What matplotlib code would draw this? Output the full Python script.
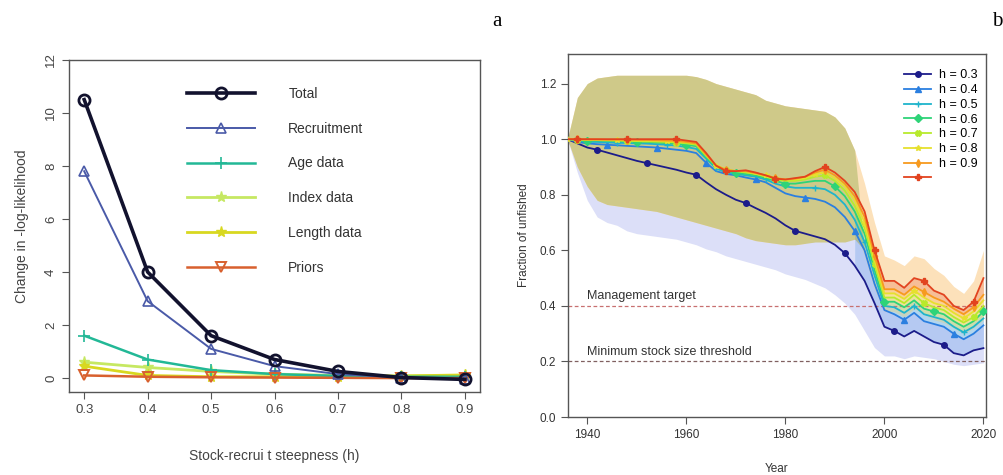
import numpy as np
import matplotlib
matplotlib.use("Agg")
import matplotlib.pyplot as plt

plt.rcParams['font.family'] = ['Liberation Sans', 'DejaVu Sans']

# ---- panel a: likelihood profile ----
steepness = [0.3, 0.4, 0.5, 0.6, 0.7, 0.8, 0.9]
total = [10.5, 4.0, 1.6, 0.7, 0.25, 0.02, -0.05]
recruitment = [7.8, 2.9, 1.1, 0.45, 0.15, 0.02, -0.05]
age_data = [1.6, 0.7, 0.3, 0.15, 0.08, 0.05, 0.05]
index_data = [0.6, 0.4, 0.25, 0.15, 0.1, 0.08, 0.1]
length_data = [0.45, 0.1, 0.05, 0.05, 0.05, 0.08, 0.12]
priors = [0.1, 0.05, 0.03, 0.02, 0.01, 0.0, 0.0]

# ---- panel b: fraction of unfished by steepness ----
years = np.arange(1936, 2021, 2)
h_labels = ['h = 0.3', 'h = 0.4', 'h = 0.5', 'h = 0.6', 'h = 0.7', 'h = 0.8', 'h = 0.9', ' ']
h03 = [1.0, 0.985, 0.97, 0.962, 0.952, 0.942, 0.932, 0.922, 0.914, 0.906, 0.898, 0.89, 0.88, 0.872,
       0.845, 0.82, 0.80, 0.782, 0.77, 0.752, 0.735, 0.715, 0.69, 0.67, 0.66, 0.65, 0.64, 0.62, 0.59,
       0.545, 0.49, 0.41, 0.325, 0.31, 0.29, 0.31, 0.29, 0.27, 0.26, 0.23, 0.222, 0.24, 0.248]
h04 = [1.0, 0.99, 0.985, 0.982, 0.98, 0.978, 0.976, 0.974, 0.972, 0.97, 0.966, 0.962, 0.958, 0.95,
       0.915, 0.885, 0.875, 0.87, 0.862, 0.855, 0.845, 0.825, 0.805, 0.795, 0.79, 0.785, 0.775, 0.755, 0.72,
       0.67, 0.6, 0.48, 0.385, 0.37, 0.35, 0.375, 0.345, 0.335, 0.325, 0.3, 0.28, 0.3, 0.33]
h05 = [1.0, 0.995, 0.99, 0.99, 0.988, 0.987, 0.986, 0.985, 0.984, 0.982, 0.98, 0.977, 0.972, 0.965,
       0.93, 0.895, 0.88, 0.875, 0.87, 0.865, 0.855, 0.84, 0.83, 0.825, 0.825, 0.825, 0.82, 0.80, 0.765,
       0.71, 0.63, 0.51, 0.40, 0.395, 0.375, 0.40, 0.37, 0.36, 0.35, 0.325, 0.305, 0.325, 0.355]
h06 = [1.0, 0.997, 0.995, 0.995, 0.994, 0.993, 0.992, 0.991, 0.99, 0.988, 0.986, 0.984, 0.98, 0.975,
       0.935, 0.9, 0.885, 0.88, 0.875, 0.87, 0.86, 0.85, 0.84, 0.84, 0.845, 0.85, 0.85, 0.83, 0.795,
       0.74, 0.66, 0.53, 0.415, 0.415, 0.395, 0.42, 0.39, 0.38, 0.37, 0.345, 0.325, 0.345, 0.38]
h07 = [1.0, 0.998, 0.997, 0.997, 0.996, 0.995, 0.994, 0.993, 0.992, 0.991, 0.99, 0.988, 0.985, 0.98,
       0.94, 0.905, 0.89, 0.885, 0.88, 0.875, 0.865, 0.855, 0.85, 0.85, 0.855, 0.865, 0.87, 0.85, 0.815,
       0.76, 0.68, 0.55, 0.43, 0.43, 0.41, 0.44, 0.41, 0.395, 0.385, 0.36, 0.34, 0.36, 0.40]
h08 = [1.0, 0.999, 0.998, 0.998, 0.997, 0.997, 0.996, 0.995, 0.995, 0.994, 0.993, 0.992, 0.99, 0.985,
       0.945, 0.905, 0.89, 0.885, 0.885, 0.875, 0.87, 0.86, 0.855, 0.855, 0.86, 0.875, 0.88, 0.86, 0.83,
       0.78, 0.70, 0.565, 0.445, 0.445, 0.425, 0.455, 0.43, 0.41, 0.40, 0.375, 0.355, 0.38, 0.42]
h09 = [1.0, 1.0, 0.999, 0.999, 0.998, 0.998, 0.998, 0.997, 0.997, 0.996, 0.995, 0.994, 0.99, 0.985,
       0.945, 0.905, 0.89, 0.885, 0.885, 0.878, 0.87, 0.86, 0.855, 0.858, 0.865, 0.88, 0.89, 0.87, 0.84,
       0.795, 0.72, 0.58, 0.46, 0.46, 0.44, 0.47, 0.45, 0.43, 0.415, 0.39, 0.37, 0.395, 0.44]
h10 = [1.0, 1.0, 1.0, 1.0, 1.0, 1.0, 1.0, 1.0, 1.0, 1.0, 1.0, 1.0, 0.995, 0.99,
       0.95, 0.905, 0.885, 0.885, 0.888, 0.88, 0.87, 0.858, 0.855, 0.86, 0.865, 0.885, 0.90, 0.88, 0.85,
       0.81, 0.74, 0.60, 0.49, 0.49, 0.465, 0.50, 0.49, 0.455, 0.44, 0.40, 0.385, 0.415, 0.50]

# uncertainty envelopes
band_top = [1.0, 1.15, 1.2, 1.22, 1.225, 1.23, 1.23, 1.23, 1.23, 1.23, 1.23, 1.23, 1.23, 1.225,
            1.215, 1.2, 1.19, 1.18, 1.17, 1.16, 1.14, 1.13, 1.12, 1.115, 1.11, 1.105, 1.10, 1.08, 1.04,
            0.96, 0.84, 0.70, 0.58, 0.565, 0.545, 0.58, 0.57, 0.535, 0.51, 0.47, 0.445, 0.49, 0.60]
olive_low = [1.0, 0.9, 0.83, 0.78, 0.765, 0.76, 0.755, 0.75, 0.745, 0.74, 0.73, 0.72, 0.71, 0.70,
             0.69, 0.68, 0.67, 0.66, 0.645, 0.635, 0.63, 0.625, 0.62, 0.62, 0.625, 0.63, 0.63, 0.63, 0.63,
             0.64, 0.6, 0.5, 0.4, 0.4, 0.38, 0.41, 0.38, 0.37, 0.36, 0.34, 0.32, 0.34, 0.37]
high_low = [1.0, 0.9, 0.83, 0.78, 0.765, 0.76, 0.755, 0.75, 0.745, 0.74, 0.73, 0.72, 0.71, 0.70,
            0.69, 0.68, 0.67, 0.66, 0.645, 0.635, 0.63, 0.625, 0.62, 0.62, 0.625, 0.7, 0.75, 0.8, 0.75,
            0.68, 0.58, 0.46, 0.38, 0.38, 0.36, 0.39, 0.37, 0.35, 0.34, 0.32, 0.30, 0.32, 0.35]
low_low = [1.0, 0.88, 0.78, 0.72, 0.70, 0.69, 0.67, 0.66, 0.655, 0.65, 0.645, 0.64, 0.63, 0.62,
           0.605, 0.595, 0.58, 0.57, 0.56, 0.55, 0.54, 0.53, 0.515, 0.505, 0.495, 0.48, 0.465, 0.44, 0.41,
           0.37, 0.31, 0.25, 0.22, 0.22, 0.21, 0.22, 0.215, 0.21, 0.2, 0.19, 0.185, 0.19, 0.195]

fig = plt.figure(figsize=(10.04, 4.75), dpi=100)

# ================= panel a =================
ax1 = fig.add_axes([0.0687, 0.175, 0.4095, 0.699])
ax1.plot(steepness, total, color='#12122e', lw=2.6, marker='o', ms=8, mfc='none', mew=2, label='Total', zorder=6)
ax1.plot(steepness, recruitment, color='#4a5aa8', lw=1.4, marker='^', ms=7, mfc='none', mew=1.2, label='Recruitment', zorder=5)
ax1.plot(steepness, age_data, color='#22b896', lw=1.8, marker='+', ms=9, mew=1.2, label='Age data', zorder=4)
ax1.plot(steepness, index_data, color='#c6e862', lw=2.0, marker='*', ms=8, label='Index data', zorder=3)
ax1.plot(steepness, length_data, color='#d8d820', lw=2.0, marker='*', ms=8, label='Length data', zorder=3)
ax1.plot(steepness, priors, color='#d8602e', lw=1.8, marker='v', ms=7, mfc='none', mew=1.4, label='Priors', zorder=4)

ax1.set_xlim(0.276, 0.924)
ax1.set_ylim(-0.52, 12.0)
ax1.set_xticks(steepness)
ax1.set_xticklabels(['%.1f' % s for s in steepness])
ax1.set_yticks([0, 2, 4, 6, 8, 10, 12])
ax1.tick_params(axis='both', direction='out', length=5, colors='#555555', labelsize=9.5, labelcolor='#444444')
ax1.tick_params(axis='y', labelrotation=90)
for lab in ax1.get_yticklabels():
    lab.set_va('center')
for sp in ax1.spines.values():
    sp.set_color('#555555')
    sp.set_linewidth(1.0)
ax1.set_xlabel('Stock-recrui t steepness (h)', fontsize=10, color='#444444', labelpad=24)
ax1.set_ylabel('Change in -log-likelihood', fontsize=10, color='#444444', labelpad=12)
ax1.legend(loc='upper left', bbox_to_anchor=(0.27, 0.94), frameon=False, fontsize=10,
           handlelength=4.9, handletextpad=2.4, labelspacing=1.5, borderpad=0, labelcolor='#333333')

fig.text(0.495, 0.955, 'a', family='Liberation Serif', fontsize=15, va='center', ha='center')

# ================= panel b =================
ax2 = fig.add_axes([0.5657, 0.122, 0.4163, 0.764])
series = [h03, h04, h05, h06, h07, h08, h09, h10]
colors = ['#1c1c8a', '#2b7fe0', '#1fb4cc', '#2ed378', '#b8ea2c', '#e6e02e', '#f79a1e', '#e2431f']
markers = ['o', '^', '+', 'D', 'X', '*', 'd', 'P']
mark_start = [3, 4, 0, 2, 1, 0, 1, 1]

early = years <= 1994
late = years >= 1994
ax2.fill_between(years, low_low, h05, color='#dcdff8', lw=0, zorder=1)
ax2.fill_between(years, high_low, band_top, color='#fcdcae', alpha=0.85, lw=0, zorder=1.2)
ax2.fill_between(years, olive_low, band_top, where=early, interpolate=True,
                 color='#cfc989', lw=0, zorder=1.5)
for i in range(len(series) - 1):
    ax2.fill_between(years, series[i], series[i + 1], where=late, color=colors[i + 1],
                     alpha=0.22, lw=0, zorder=1.8)

for vals, col, mk, st, lab in zip(series, colors, markers, mark_start, h_labels):
    ax2.plot(years, vals, color=col, lw=1.3, marker=mk, ms=4, markevery=slice(st, None, 5),
             label=lab, zorder=3)

ax2.axhline(0.4, color='#c87070', lw=0.9, ls=(0, (3, 2)), zorder=2.5)
ax2.axhline(0.2, color='#806060', lw=0.9, ls=(0, (3, 2)), zorder=2.5)
ax2.text(1940, 0.425, 'Management target', fontsize=9, color='#333333')
ax2.text(1940, 0.225, 'Minimum stock size threshold', fontsize=9, color='#333333')

ax2.set_xlim(1936.1, 2020.5)
ax2.set_ylim(0, 1.306)
ax2.set_xticks([1940, 1960, 1980, 2000, 2020])
ax2.set_yticks([0.0, 0.2, 0.4, 0.6, 0.8, 1.0, 1.2])
ax2.set_yticklabels(['%.1f' % v for v in [0.0, 0.2, 0.4, 0.6, 0.8, 1.0, 1.2]])
ax2.tick_params(axis='both', direction='out', length=5, colors='#555555', labelsize=8.5, labelcolor='#333333')
for sp in ax2.spines.values():
    sp.set_color('#555555')
    sp.set_linewidth(1.0)
ax2.set_xlabel('Year', fontsize=8.5, color='#333333', labelpad=16)
ax2.set_ylabel('Fraction of unfished', fontsize=8.5, color='#333333', labelpad=7)
ax2.legend(loc='upper right', bbox_to_anchor=(0.995, 0.975), frameon=False, fontsize=9,
           handlelength=2.2, handletextpad=0.6, labelspacing=0.22, borderpad=0)

fig.text(0.993, 0.955, 'b', family='Liberation Serif', fontsize=15, va='center', ha='center')

fig.savefig('out.png', dpi=100)
